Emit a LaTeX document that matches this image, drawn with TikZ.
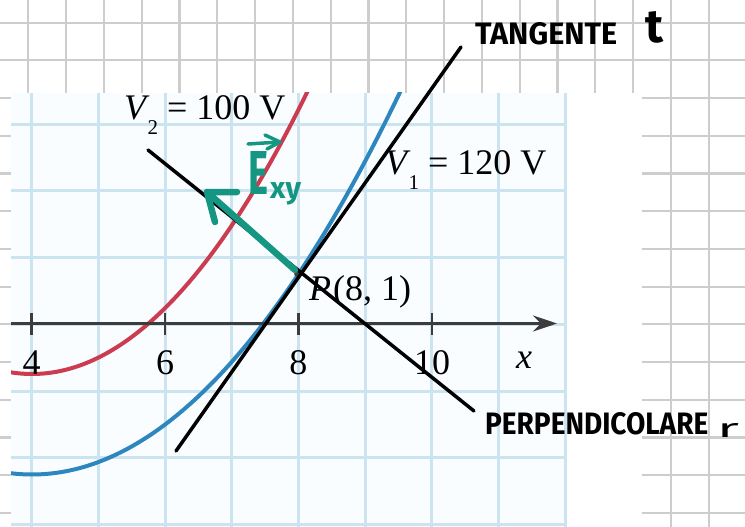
\documentclass[tikz,border=0pt]{standalone}
\usepackage{fontspec}
\usepackage{graphicx}
\setmainfont{Liberation Serif}
\newfontfamily\handfont{Fira Sans}
\usetikzlibrary{arrows.meta}
\definecolor{nbgrid}{RGB}{205,205,205}
\definecolor{figbg}{RGB}{250,253,255}
\definecolor{figgrid}{RGB}{204,228,240}
\definecolor{vred}{RGB}{204,60,80}
\definecolor{vblue}{RGB}{45,135,190}
\definecolor{axisgray}{RGB}{60,60,60}
\definecolor{penteal}{RGB}{20,150,130}
\newcommand\Vsub[1]{\textit{V}\kern-2pt\raisebox{-15pt}{\fontsize{21}{21}\selectfont #1}}
\tikzset{
  nbline/.style={draw=nbgrid, line width=2.2pt},
  figline/.style={draw=figgrid, line width=3pt},
  curve/.style={line width=4pt},
  pen/.style={draw=black, line width=3.5pt, line cap=round},
  tealpen/.style={draw=penteal, line width=6.5pt, line cap=round, line join=round},
  lab/.style={inner sep=0pt, font=\fontsize{36}{36}\selectfont},
  hand/.style={inner sep=0pt, font=\handfont\bfseries},
}
\begin{document}
\begin{tikzpicture}[x=1pt,y=-1pt]
\useasboundingbox (0,0) rectangle (745,527);
\fill[white] (0,0) rectangle (745,527);
% notebook grid
\foreach \k in {0,...,18} \draw[nbline] ({28.3+37.8*\k},0) -- ({28.3+37.8*\k},527);
\foreach \k in {0,...,13} \draw[nbline] (0,{22.7+37.7*\k}) -- (745,{22.7+37.7*\k});
% pasted figure
\fill[white] (11,93) rectangle (642,527);
\fill[figbg] (11,93) rectangle (567,527);
\begin{scope}
  \clip (11,93) rectangle (567,527);
  \foreach \k in {0,...,8} \draw[figline] ({31.7+66.7*\k},93) -- ({31.7+66.7*\k},527);
  \foreach \k in {-3,...,3} \draw[figline] (11,{324.3-66.7*\k}) -- (567,{324.3-66.7*\k});
  \draw[curve, vred] plot[domain=5:312, samples=90, smooth] (\x, {374-0.00373*(\x-32)*(\x-32)});
  \draw[curve, vblue] plot[domain=5:412, samples=110, smooth] (\x, {474.5-0.00283*(\x-32)*(\x-32)});
\end{scope}
% axis
\coordinate (ax0) at (11,323.5);
\coordinate (ax1) at (557,323.5);
\draw[axisgray, line width=3.5pt, -{Stealth[length=24pt,width=16pt]}] (ax0) -- (ax1);
\foreach \x/\t in {31.7/4, 165/6, 298.3/8, 432/10} {
  \draw[axisgray, line width=2.5pt] (\x,313) -- (\x,335);
  \node[lab, anchor=base] (tick\t) at (\x,374) {\t};
}
\node[lab, anchor=base] (xlab) at (524,368) {\textit{x}};
\node[lab, anchor=base west] (v2) at (124,120) {\Vsub{2} = 100 V};
\node[lab, anchor=base west] (v1) at (385,174) {\Vsub{1} = 120 V};
\node[lab, anchor=base west] (plab) at (309,300) {\textit{P}\kern2pt(8, 1)};
\node[circle, fill=black!75, inner sep=2pt] (P) at (297,274) {};
% handwritten lines
\coordinate (ta) at (176,451);
\coordinate (tb) at (461,47);
\draw[pen] (ta) -- (tb);
\coordinate (ra) at (148,150);
\coordinate (rb) at (474,411);
\draw[pen] (ra) -- (rb);
% E arrow
\coordinate (eo) at (295,270);
\coordinate (etip) at (207,192);
\coordinate (earm1) at (237,192);
\coordinate (earm2) at (215,222);
\draw[tealpen] (eo) -- (etip);
\draw[tealpen] (earm1) -- (etip) -- (earm2);
% E label
\node[hand, text=penteal, anchor=south west] (E) at (248,195) {\resizebox{20pt}{43pt}{E}};
\node[inner sep=0pt, text=penteal, anchor=base west, font=\handfont\bfseries\fontsize{30}{30}\selectfont] (xy) at (270,198) {xy};
\coordinate (va) at (248,144);
\coordinate (vb) at (280,142);
\coordinate (vc) at (265,135);
\coordinate (vd) at (267,149);
\draw[tealpen, line width=3.5pt] (va) -- (vb);
\draw[tealpen, line width=3.5pt] (vc) -- (vb) -- (vd);
% handwritten text
\node[hand, anchor=south west] (tang) at (475,45) {\resizebox{142pt}{22pt}{TANGENTE}};
\node[hand, anchor=south west] (tt) at (645,43) {\resizebox{18pt}{31pt}{t}};
\node[hand, anchor=south west] (perp) at (485,435) {\resizebox{223pt}{22pt}{PERPENDICOLARE}};
\node[inner sep=0pt, font=\handfont, anchor=south west] (rr) at (717,438) {\resizebox{22pt}{14pt}{r}};
\end{tikzpicture}
\end{document}
